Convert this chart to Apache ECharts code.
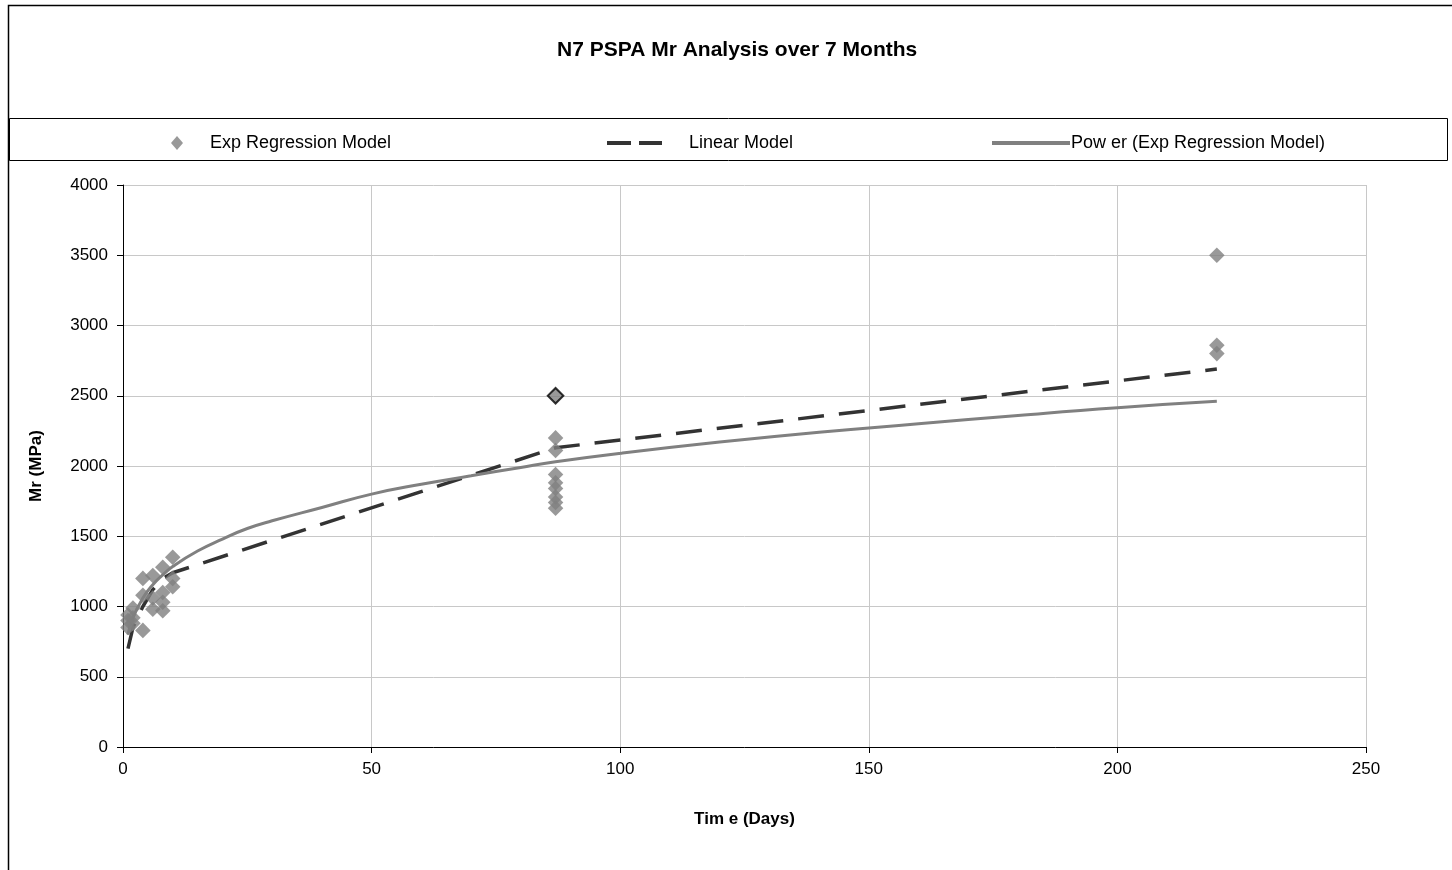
<!DOCTYPE html>
<html>
<head>
<meta charset="utf-8">
<script src="https://cdn.jsdelivr.net/npm/echarts@6/dist/echarts.min.js"></script>
<style>
    html, body { margin: 0; padding: 0; background: #fff; }
    #main { width: 1452px; height: 870px; }
</style>
</head>
<body>
<div id="main"></div>
<script>
// measured points (days, MPa)
var expDays = [1, 1, 1, 2, 2, 2, 4, 4, 4, 6, 6, 6, 8, 8, 8, 8, 10, 10, 10,
    87, 87, 87, 87, 87, 87, 87, 87, 87, 220, 220, 220];
var expMr = [850, 900, 940, 880, 920, 990, 830, 1080, 1200, 980, 1060, 1220, 970, 1030, 1100, 1280, 1140, 1200, 1350,
    2500, 2200, 2110, 1940, 1880, 1840, 1780, 1740, 1700, 3500, 2860, 2800];
// the outlined point
var markedIndex = 19;

// linear model
var linDays = [1, 2, 4, 6, 8, 10, 87, 220];
var linMr = [700, 850, 1000, 1120, 1200, 1240, 2130, 2690];

// power trend line
var powDays = [1, 2, 4, 6, 8, 10, 15, 20, 25, 30, 40, 50, 60, 70, 80, 87, 100, 120, 140, 160, 180, 200, 220];
var powMr = [800, 920, 1060, 1155, 1225, 1285, 1395, 1480, 1555, 1610, 1705, 1800, 1870, 1930, 1990, 2030, 2090, 2170, 2240, 2300, 2360, 2415, 2460];

var xTicks = [0, 50, 100, 150, 200, 250];
var yTicks = [0, 500, 1000, 1500, 2000, 2500, 3000, 3500, 4000];

function zip(xs, ys) {
    var out = [];
    xs.forEach(function (x, i) {
        out.push([x, ys[i]]);
    });
    return out;
}

var expData = zip(expDays, expMr);
expData[markedIndex] = {
    value: expData[markedIndex],
    itemStyle: { color: '#808080', borderColor: '#000', borderWidth: 2 }
};

var font = 'Arial, "Liberation Sans", sans-serif';
var legendText = { fontFamily: font, fontSize: 18, color: '#000' };
var myChart = echarts.init(document.getElementById('main'));

var option = {
    backgroundColor: '#fff',
    animation: false,
    title: {
        text: 'N7 PSPA Mr Analysis over 7 Months',
        left: 552,
        top: 35,
        textStyle: { fontFamily: font, fontSize: 21, fontWeight: 'bold', color: '#000' }
    },
    graphic: [
        {
            type: 'rect', left: 6, top: 3, silent: true,
            shape: { width: 1460, height: 880 },
            style: { fill: 'none', stroke: '#000', lineWidth: 1.5 }
        },
        {
            type: 'rect', left: 7, top: 116, silent: true,
            shape: { width: 1438, height: 42 },
            style: { fill: 'none', stroke: '#000', lineWidth: 1 }
        }
    ],
    legend: [
        {
            data: [{ name: 'Exp Regression Model', icon: 'diamond' }],
            left: 166, top: 129,
            itemWidth: 12, itemHeight: 14,
            textStyle: echarts.util.extend({ padding: [0, 0, 0, 22] }, legendText)
        },
        {
            data: ['Linear Model'],
            left: 600, top: 129,
            itemWidth: 55, itemHeight: 14,
            itemStyle: { opacity: 0 },
            lineStyle: { width: 4, type: [24, 8] },
            textStyle: echarts.util.extend({ padding: [0, 0, 0, 22] }, legendText)
        },
        {
            data: ['Pow er (Exp Regression Model)'],
            left: 985, top: 129,
            itemWidth: 78, itemHeight: 14,
            itemStyle: { opacity: 0 },
            lineStyle: { width: 4 },
            textStyle: echarts.util.extend({ padding: [0, 0, 0, -4] }, legendText)
        }
    ],
    grid: { left: 123, right: 86, top: 185, bottom: 123 },
    xAxis: {
        type: 'value',
        min: xTicks[0],
        max: xTicks[xTicks.length - 1],
        interval: 50,
        name: 'Tim e (Days)',
        nameLocation: 'middle',
        nameGap: 64,
        nameTextStyle: { fontFamily: font, fontSize: 17, fontWeight: 'bold', color: '#000' },
        axisLine: { lineStyle: { color: '#000', width: 1 } },
        axisTick: { show: true, length: 6, lineStyle: { color: '#000' } },
        axisLabel: { fontFamily: font, fontSize: 17, color: '#000', margin: 14 },
        splitLine: { show: true, lineStyle: { color: '#c8c8c8', width: 1 } }
    },
    yAxis: {
        type: 'value',
        min: yTicks[0],
        max: yTicks[yTicks.length - 1],
        interval: 500,
        name: 'Mr (MPa)',
        nameLocation: 'middle',
        nameGap: 78,
        nameRotate: 90,
        nameTextStyle: { fontFamily: font, fontSize: 17, fontWeight: 'bold', color: '#000' },
        axisLine: { show: true, lineStyle: { color: '#000', width: 1 } },
        axisTick: { show: true, length: 6, lineStyle: { color: '#000' } },
        axisLabel: {
            fontFamily: font, fontSize: 17, color: '#000', margin: 15,
            formatter: function (v) { return String(v); }
        },
        splitLine: { show: true, lineStyle: { color: '#c8c8c8', width: 1 } }
    },
    series: [
        {
            name: 'Exp Regression Model',
            type: 'scatter',
            symbol: 'rect',
            symbolSize: 11,
            symbolRotate: 45,
            itemStyle: { color: '#808080' },
            data: expData,
            z: 5
        },
        {
            name: 'Linear Model',
            type: 'line',
            symbol: 'none',
            color: '#333333',
            lineStyle: { color: '#333333', width: 3.5, type: [26, 15] },
            data: zip(linDays, linMr),
            z: 3
        },
        {
            name: 'Pow er (Exp Regression Model)',
            type: 'line',
            symbol: 'none',
            smooth: true,
            color: '#808080',
            lineStyle: { color: '#808080', width: 3 },
            data: zip(powDays, powMr),
            z: 4
        }
    ]
};

myChart.setOption(option);
</script>
</body>
</html>
